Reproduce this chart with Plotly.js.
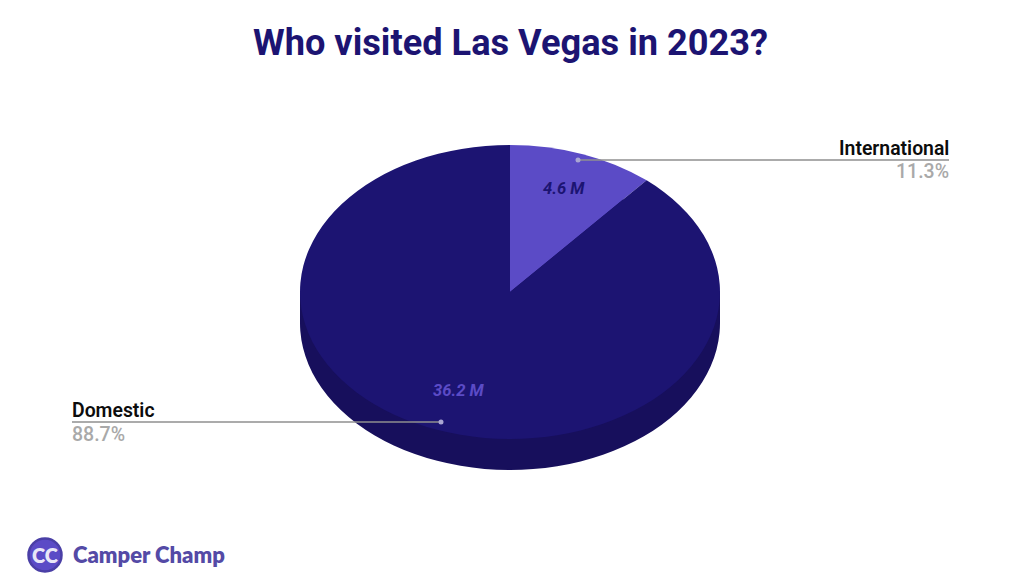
<!DOCTYPE html>
<html>
<head>
<meta charset="utf-8">
<script src="https://cdn.plot.ly/plotly-3.0.1.min.js"></script>
<style>html,body{margin:0;padding:0;background:#fff;overflow:hidden}#chart{width:1024px;height:582px}</style>
</head>
<body>
<div id="chart"></div>
<script>
// Data
var categories = ["International", "Domestic"];
var visitorsMillions = [4.6, 36.2];
var visitorLabels = ["4.6 M", "36.2 M"];
var shareLabels = ["11.3%", "88.7%"];
var chartTitle = "Who visited Las Vegas in 2023?";
var brandName = "Camper Champ";
var brandInitials = "CC";

// Style and layout
var W = 1024, H = 582;
var NAVY = "#1c1472", VIOLET = "#5b4bc6", SIDE = "#170f5c", GREY = "#a9a9a9", LINE = "#8f8f8f", DOT = "#aaa6d2";
var FONT = "Roboto, sans-serif";
var CX = 510, CY = 292, RX = 210, RY = 147, DEPTH = 31;
function px(x){return x / W;}
function py(y){return 1 - y / H;}
var domain = {x:[px(CX-RX), px(CX+RX)], y:[py(CY+RX), py(CY-RX)]};

function pie(colors, name){
  return {type:"pie", name:name, labels:categories, values:visitorsMillions, sort:false,
    direction:"clockwise", rotation:0, domain:domain, textinfo:"none", hoverinfo:"label+value+percent",
    marker:{colors:colors, line:{width:0}}, showlegend:false};
}
function note(text, x, y, anchor, size, color, weight, style, family){
  return {text:text, xref:"paper", yref:"paper", x:px(x), y:py(y), xanchor:anchor, yanchor:"middle",
    showarrow:false, align:anchor, borderpad:0,
    font:{family:family||FONT, size:size, color:color, weight:weight, style:style||"normal"}};
}
function leader(x0, x1, y){
  return {type:"line", layer:"above", xref:"paper", yref:"paper", x0:px(x0), x1:px(x1), y0:py(y), y1:py(y),
    line:{color:LINE, width:1.5}};
}
function disc(x, y, r, color, layer, lineColor, lineW){
  return {type:"circle", layer:layer, xref:"paper", yref:"paper", x0:px(x-r), x1:px(x+r), y0:py(y+r), y1:py(y-r),
    fillcolor:color, line:{color:lineColor||color, width:lineW||0}};
}

var data = [pie([SIDE, SIDE], "Side"), pie([VIOLET, NAVY], "Visitors")];
var layout = {
  width:W, height:H, margin:{l:0,r:0,t:0,b:0}, paper_bgcolor:"#fff", showlegend:false,
  annotations:[
    note(chartTitle, 510, 43, "center", 36.2, NAVY, 700),
    note(categories[0], 950, 148, "right", 19.4, "#0c0c0c", 600),
    note(shareLabels[0], 950, 171, "right", 19.5, GREY, 500),
    note(categories[1], 70.5, 410, "left", 19.4, "#0c0c0c", 600),
    note(shareLabels[1], 70.5, 434, "left", 19.5, GREY, 500),
    note(visitorLabels[0], 564, 189, "center", 16.6, NAVY, 700, "italic"),
    note(visitorLabels[1], 458, 391, "center", 16.6, VIOLET, 700, "italic"),
    note(brandInitials, 45, 555, "center", 20, "#e9e7f7", 800, "normal", "Lato, sans-serif"),
    note(brandName, 72, 554, "left", 22, "#544aa6", 800, "normal", "Lato, sans-serif")
  ],
  shapes:[
    {type:"rect", layer:"below", xref:"paper", yref:"paper", x0:px(CX-RX), x1:px(CX+RX), y0:py(CY+DEPTH), y1:py(CY), fillcolor:SIDE, line:{width:0}},
    leader(578, 949, 160), leader(72, 441, 422),
    disc(578, 160, 2.5, DOT, "above"), disc(441, 422, 2.5, DOT, "above"),
    disc(45, 555, 16.5, VIOLET, "above", "#4a3fa6", 2.5)
  ]
};

Plotly.newPlot("chart", data, layout, {displayModeBar:false, staticPlot:true}).then(function(){
  // Tilt both pies into ellipses; the first one sits lower and forms the rim.
  var k = RY / RX;
  var traces = document.querySelectorAll("#chart .pielayer .trace");
  traces.forEach(function(t, i){
    var shift = i === 0 ? DEPTH : 0;
    t.setAttribute("transform", "translate(0," + (CY + shift) + ") scale(1," + k + ") translate(0," + (-CY) + ")");
  });
});
</script>
</body>
</html>
